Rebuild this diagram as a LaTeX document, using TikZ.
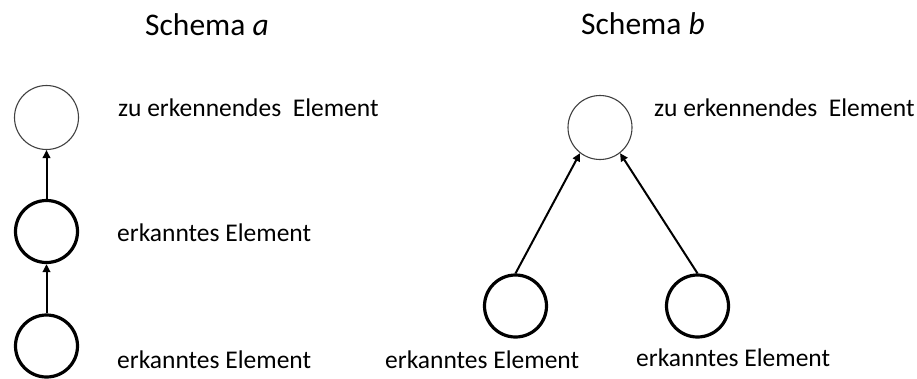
\documentclass[tikz,border=0pt]{standalone}
\usepackage{fontspec}
\setmainfont{Carlito}
\usetikzlibrary{arrows.meta}
\begin{document}
\begin{tikzpicture}[x=1pt,y=-1pt,
  thinel/.style={circle,draw=black!75,line width=1.1pt,minimum size=64pt,inner sep=0pt},
  thickel/.style={circle,draw=black,line width=3.2pt,minimum size=62pt,inner sep=0pt},
  conn/.style={line width=2pt,-{Triangle[length=8pt,width=7.5pt]}},
  lbl/.style={anchor=base west,inner sep=0pt,font=\fontsize{25.5}{30}\selectfont},
  head/.style={anchor=base west,inner sep=0pt,font=\fontsize{31.5}{36}\selectfont}]
\useasboundingbox (0,0) rectangle (917,378);
% Schema a
\node[head] (ha) at (145,35) {Schema \textit{a}};
\node[thinel] (a1) at (46.5,117.5) {};
\node[thickel] (a2) at (46.5,231.5) {};
\node[thickel] (a3) at (46.5,346) {};
\draw[conn] (a2.north) -- (a1.south);
\draw[conn] (a3.north) -- (a2.south);
\node[lbl] (la1) at (118,116.5) {zu erkennendes\ \ Element};
\node[lbl] (la2) at (117,241) {erkanntes Element};
\node[lbl] (la3) at (117,368) {erkanntes Element};
% Schema b
\node[head] (hb) at (581,34) {Schema \textit{b}};
\node[thinel] (b1) at (600,127.5) {};
\node[thickel] (b2) at (515.5,306) {};
\node[thickel] (b3) at (697.5,306) {};
\draw[conn] (b2.north) -- (b1.232);
\draw[conn] (b3.north) -- (b1.308);
\node[lbl] (lb1) at (654,116.5) {zu erkennendes\ \ Element};
\node[lbl] (lb2) at (385,368) {erkanntes Element};
\node[lbl] (lb3) at (636,366.5) {erkanntes Element};
\end{tikzpicture}
\end{document}
